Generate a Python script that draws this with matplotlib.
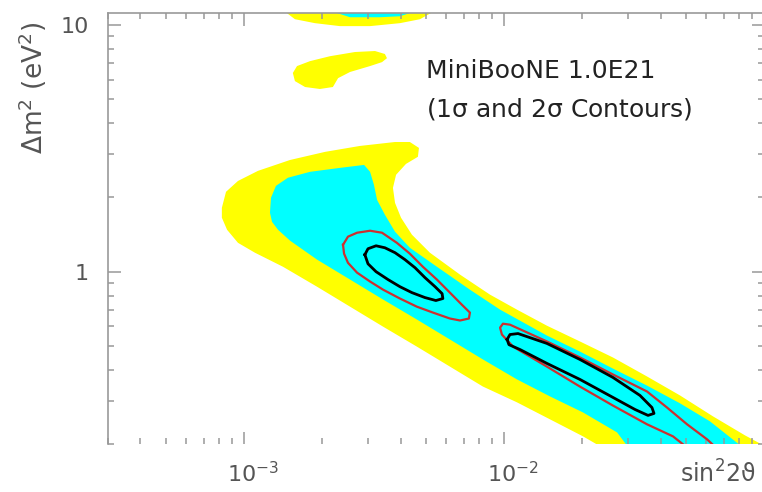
import numpy as np
import matplotlib.pyplot as plt
from matplotlib.ticker import LogLocator, NullFormatter, FixedLocator, FixedFormatter
import matplotlib.transforms as mtransforms

plt.rcParams['mathtext.default'] = 'regular'

# contour outlines, as (log10 sin^2 2theta, log10 dm^2) pairs
sig2_band = [(-3.085, 0.259), (-3.069, 0.324), (-3.023, 0.368), (-2.946, 0.409), (-2.823, 0.453),
             (-2.688, 0.486), (-2.554, 0.510), (-2.419, 0.526), (-2.362, 0.526), (-2.327, 0.502),
             (-2.331, 0.466), (-2.377, 0.437), (-2.415, 0.393), (-2.427, 0.340), (-2.419, 0.279),
             (-2.396, 0.219), (-2.354, 0.150), (-2.285, 0.077), (-2.169, -0.012), (-2.054, -0.093),
             (-1.950, -0.154), (-1.835, -0.219), (-1.708, -0.283), (-1.581, -0.348), (-1.450, -0.425),
             (-1.323, -0.502), (-1.196, -0.587), (-1.073, -0.664), (-0.938, -0.741), (-0.919, -0.802),
             (-1.477, -0.802), (-1.696, -0.668), (-1.823, -0.599),
             (-1.950, -0.530), (-2.081, -0.466), (-2.208, -0.385), (-2.335, -0.304), (-2.465, -0.223),
             (-2.592, -0.142), (-2.719, -0.061), (-2.850, 0.020), (-2.958, 0.077), (-3.023, 0.117),
             (-3.065, 0.170), (-3.085, 0.219)]
sig1_band = [(-2.900, 0.239), (-2.896, 0.300), (-2.877, 0.348), (-2.831, 0.381), (-2.746, 0.405),
             (-2.631, 0.421), (-2.538, 0.433), (-2.515, 0.405), (-2.500, 0.352), (-2.488, 0.291),
             (-2.458, 0.231), (-2.419, 0.162), (-2.362, 0.097), (-2.258, 0.020), (-2.131, -0.073),
             (-2.015, -0.154), (-1.835, -0.259), (-1.708, -0.324), (-1.581, -0.393), (-1.450, -0.462),
             (-1.323, -0.534), (-1.208, -0.607), (-1.081, -0.713), (-0.977, -0.781), (-0.977, -0.802),
             (-1.458, -0.802), (-1.565, -0.652), (-1.696, -0.571), (-1.823, -0.506), (-1.950, -0.437),
             (-2.081, -0.356), (-2.208, -0.275), (-2.335, -0.194), (-2.465, -0.113), (-2.592, -0.032),
             (-2.719, 0.049), (-2.823, 0.126), (-2.869, 0.170), (-2.892, 0.202)]
sig2_top = [(-2.842, 1.10), (-2.835, 1.049), (-2.804, 1.024), (-2.727, 1.008), (-2.631, 0.996),
            (-2.515, 0.996), (-2.400, 1.008), (-2.323, 1.024), (-2.281, 1.049), (-2.265, 1.10)]
sig1_top = [(-2.650, 1.10), (-2.642, 1.049), (-2.592, 1.032), (-2.477, 1.032), (-2.400, 1.036),
            (-2.362, 1.049), (-2.354, 1.10)]
sig2_island = [(-2.812, 0.806), (-2.796, 0.834), (-2.746, 0.854), (-2.669, 0.874), (-2.573, 0.891),
               (-2.496, 0.895), (-2.458, 0.883), (-2.450, 0.866), (-2.469, 0.850), (-2.515, 0.834),
               (-2.592, 0.810), (-2.638, 0.785), (-2.658, 0.749), (-2.708, 0.741), (-2.765, 0.749),
               (-2.804, 0.773)]
red_upper = [(-2.619, 0.109), (-2.600, 0.142), (-2.565, 0.158), (-2.515, 0.166), (-2.469, 0.158),
             (-2.412, 0.117), (-2.362, 0.073), (-2.312, 0.020), (-2.258, -0.032), (-2.208, -0.085),
             (-2.162, -0.134), (-2.131, -0.166), (-2.135, -0.190), (-2.169, -0.198), (-2.208, -0.190),
             (-2.273, -0.166), (-2.335, -0.142), (-2.400, -0.109), (-2.465, -0.073), (-2.515, -0.040),
             (-2.565, -0.004), (-2.600, 0.036), (-2.615, 0.073), (-2.619, 0.109)]
black_upper = [(-2.535, 0.069), (-2.523, 0.093), (-2.492, 0.105), (-2.458, 0.097), (-2.419, 0.077),
               (-2.381, 0.049), (-2.342, 0.016), (-2.304, -0.024), (-2.265, -0.061), (-2.238, -0.089),
               (-2.235, -0.109), (-2.262, -0.117), (-2.304, -0.105), (-2.354, -0.085), (-2.400, -0.061),
               (-2.446, -0.032), (-2.492, 0.000), (-2.523, 0.032), (-2.535, 0.069)]
# the lower 2 sigma line runs out through the bottom of the frame
red_lower = [(-1.277, -0.729), (-1.350, -0.668), (-1.450, -0.619), (-1.581, -0.543), (-1.708, -0.466),
             (-1.835, -0.385), (-1.965, -0.304), (-2.008, -0.255), (-2.015, -0.227), (-2.004, -0.211),
             (-1.977, -0.215), (-1.835, -0.283), (-1.708, -0.348), (-1.581, -0.417), (-1.450, -0.486),
             (-1.373, -0.551), (-1.296, -0.619), (-1.219, -0.680), (-1.169, -0.729)]
black_lower = [(-1.988, -0.275), (-1.977, -0.255), (-1.946, -0.251), (-1.835, -0.291), (-1.708, -0.356),
               (-1.581, -0.429), (-1.477, -0.502), (-1.431, -0.551), (-1.423, -0.575), (-1.446, -0.583),
               (-1.496, -0.559), (-1.581, -0.510), (-1.708, -0.437), (-1.835, -0.372), (-1.938, -0.316),
               (-1.981, -0.296), (-1.988, -0.275)]

x_ticks = [1e-3, 1e-2]
x_ticklabels = [r'$10^{-3}$', r'$10^{-2}$']
y_ticks = [1, 10]
y_ticklabels = ['1', '10']


def unlog(pts):
    a = np.array(pts)
    return 10 ** a[:, 0], 10 ** a[:, 1]


yellow = '#ffff00'
cyan = '#00ffff'
red = '#cc3030'
gray = '#999999'

fig = plt.figure(figsize=(7.62, 4.92), dpi=100)
ax = fig.add_axes([108 / 762, 48 / 492, 656 / 762, 431 / 492])
ax.set_xscale('log')
ax.set_yscale('log')
ax.set_xlim(3e-4, 0.1)
ax.set_ylim(0.2, 11.2)

for pts in (sig2_band, sig2_top, sig2_island):
    ax.fill(*unlog(pts), color=yellow, lw=0)
for pts in (sig1_band, sig1_top):
    ax.fill(*unlog(pts), color=cyan, lw=0)
for pts in (red_upper, red_lower):
    ax.plot(*unlog(pts), color=red, lw=1.6)
for pts in (black_upper, black_lower):
    ax.plot(*unlog(pts), color='black', lw=2.0)

# axes styling
for s in ('left', 'top', 'right'):
    ax.spines[s].set_color(gray)
    ax.spines[s].set_linewidth(1.2)
ax.spines['bottom'].set_visible(False)

ax.xaxis.set_major_locator(FixedLocator(x_ticks + [0.1]))
ax.xaxis.set_major_formatter(FixedFormatter(x_ticklabels + ['']))
ax.xaxis.set_minor_locator(LogLocator(base=10, subs=np.arange(2, 10)))
ax.xaxis.set_minor_formatter(NullFormatter())
ax.yaxis.set_major_locator(FixedLocator(y_ticks))
ax.yaxis.set_major_formatter(FixedFormatter(y_ticklabels))
ax.yaxis.set_minor_locator(LogLocator(base=10, subs=np.arange(2, 10)))
ax.yaxis.set_minor_formatter(NullFormatter())

ax.tick_params(which='both', direction='in', top=True, right=True, color=gray, width=1.1,
               labelcolor='#555555', labelsize=16)
ax.tick_params(which='major', length=9)
ax.tick_params(which='minor', length=4.5)
ax.tick_params(axis='y', pad=14)
ax.tick_params(axis='x', pad=12)

# the "10" of each x label sits on its tick, exponent hangs off to the right
shift = mtransforms.ScaledTranslation(9 / 100, 0, fig.dpi_scale_trans)
for lab in ax.get_xticklabels():
    lab.set_transform(lab.get_transform() + shift)

fig.text(718 / 762, 1 - 474 / 492, r'$sin^22\vartheta$', fontsize=17, color='#555555',
         ha='center', va='center')
fig.text(33 / 762, 1 - 88 / 492, r'$\Delta m^2$ (eV$^2$)', fontsize=19, color='#555555',
         rotation=90, ha='center', va='center')

fig.text(426 / 762, 1 - 71 / 492, 'MiniBooNE 1.0E21', fontsize=18, color='#222222',
         ha='left', va='center')
fig.text(426 / 762, 1 - 109 / 492, r'(1$\sigma$ and 2$\sigma$ Contours)', fontsize=18,
         color='#222222', ha='left', va='center')

fig.savefig('out.png', dpi=100)
